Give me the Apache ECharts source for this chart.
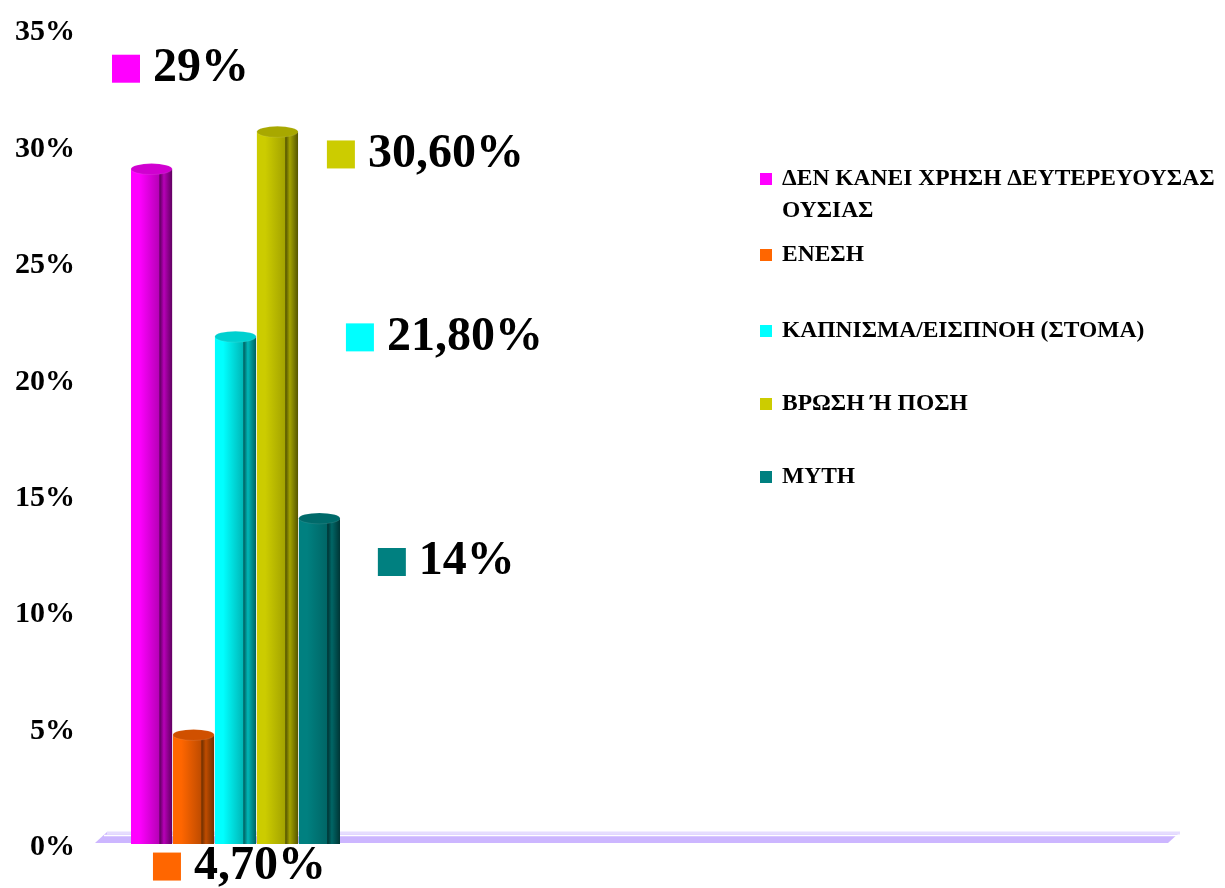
<!DOCTYPE html>
<html>
<head>
<meta charset="utf-8">
<script src="https://cdn.jsdelivr.net/npm/echarts@6/dist/echarts.min.js"></script>
<style>
  html, body { margin: 0; padding: 0; background: #fff; }
  #chart { width: 1225px; height: 888px; }
</style>
</head>
<body>
<div id="chart"></div>
<script>
// data
const categories = [''];
const seriesNames = [
  'ΔΕΝ ΚΑΝΕΙ ΧΡΗΣΗ ΔΕΥΤΕΡΕΥΟΥΣΑΣ ΟΥΣΙΑΣ',
  'ΕΝΕΣΗ',
  'ΚΑΠΝΙΣΜΑ/ΕΙΣΠΝΟΗ (ΣΤΟΜΑ)',
  'ΒΡΩΣΗ Ή ΠΟΣΗ',
  'ΜΥΤΗ'
];
const values = [29, 4.7, 21.8, 30.6, 14];
const valueLabels = ['29%', '4,70%', '21,80%', '30,60%', '14%'];
const yMin = 0, yMax = 35, yStep = 5;

// styles
const baseColors = ['#ff00ff', '#ff6600', '#00ffff', '#cccc00', '#008080'];
const midColors  = ['#b800b8', '#c04c00', '#00b8b8', '#a3a300', '#006666'];
const darkColors = ['#600060', '#703000', '#006060', '#555500', '#003535'];
const capColors  = ['#d000d0', '#d05000', '#00d0d0', '#a8a800', '#006a6a'];
// label anchor relative to the bar's top-left corner
const labelPos = [[-19, -100], [-20, 132], [131, 1], [70, 23], [79, 44]];
const legendTops = [126, 234, 310, 383, 456];

const FONT = '"Liberation Serif", "Times New Roman", serif';

const chart = echarts.init(document.getElementById('chart'));

const barSeries = seriesNames.map((name, i) => ({
  name: name,
  type: 'bar',
  barGap: '2%',
  barCategoryGap: '0%',
  z: 2,
  itemStyle: {
    color: new echarts.graphic.LinearGradient(0, 0, 1, 0, [
      { offset: 0, color: baseColors[i] },
      { offset: 0.2, color: baseColors[i] },
      { offset: 0.68, color: midColors[i] },
      { offset: 0.7, color: darkColors[i] },
      { offset: 0.8, color: midColors[i] },
      { offset: 1, color: darkColors[i] }
    ])
  },
  label: {
    show: true,
    position: labelPos[i],
    align: 'left',
    verticalAlign: 'middle',
    formatter: () => '{sq|}{v|' + valueLabels[i] + '}',
    rich: {
      sq: {
        width: 28, height: 28,
        backgroundColor: baseColors[i],
        verticalAlign: 'middle'
      },
      v: {
        fontFamily: FONT,
        fontWeight: 'bold',
        fontSize: 48,
        color: '#000',
        padding: [0, 0, 0, 13],
        verticalAlign: 'middle'
      }
    }
  },
  data: [values[i]]
}));

const capSeries = seriesNames.map((name, i) => ({
  name: name,
  type: 'pictorialBar',
  barGap: '2%',
  barCategoryGap: '0%',
  symbol: 'circle',
  symbolSize: ['100%', 11],
  symbolPosition: 'end',
  symbolOffset: [0, '-50%'],
  z: 3,
  silent: true,
  itemStyle: {
    color: capColors[i],
    borderColor: '#fff',
    borderWidth: 1.5
  },
  data: [values[i]]
}));

// first legend item wraps onto a second line; an empty leading line keeps
// the key square level with the first line of text
const legends = seriesNames.map((name, i) => ({
  left: 755,
  top: legendTops[i],
  orient: 'vertical',
  itemWidth: 12,
  itemHeight: 12,
  selectedMode: false,
  data: [{ name: name, icon: 'rect', itemStyle: { color: baseColors[i] } }],
  formatter: n => n.indexOf(' ΟΥΣΙΑΣ') > 0 ? '\n' + n.replace(' ΟΥΣΙΑΣ', '\nΟΥΣΙΑΣ') : n,
  textStyle: {
    fontFamily: FONT,
    fontWeight: 'bold',
    fontSize: 23.5,
    color: '#000',
    lineHeight: 32,
    padding: [0, 0, 0, 5]
  }
}));

const option = {
  backgroundColor: '#fff',
  animation: false,
  grid: {
    left: 131,
    width: 209,
    top: 29,
    bottom: 44
  },
  legend: legends,
  xAxis: {
    type: 'category',
    data: categories,
    axisLine: { show: false },
    axisTick: { show: false },
    axisLabel: { show: false }
  },
  yAxis: {
    type: 'value',
    min: yMin,
    max: yMax,
    interval: yStep,
    axisLine: { show: false },
    axisTick: { show: false },
    splitLine: { show: false },
    axisLabel: {
      margin: 56,
      formatter: '{v|{value}%}',
      rich: {
        v: {
          padding: [7, 0, 0, 0],
          fontFamily: FONT,
          fontWeight: 'bold',
          fontSize: 30,
          color: '#000'
        }
      }
    }
  },
  // floor of the 3D plot area
  graphic: [
    {
      type: 'polygon',
      z: -10,
      shape: { points: [[95, 843], [1168, 843], [1180, 832], [107, 832]] },
      style: { fill: '#ccb6ff' }
    },
    {
      type: 'line',
      z: -9,
      shape: { x1: 107, y1: 833, x2: 1180, y2: 833 },
      style: { stroke: '#e6ddff', lineWidth: 3 }
    },
    {
      type: 'line',
      z: -9,
      shape: { x1: 104, y1: 835.5, x2: 1177, y2: 835.5 },
      style: { stroke: '#ffffff', lineWidth: 1.5 }
    }
  ],
  series: barSeries.concat(capSeries)
};

chart.setOption(option);
</script>
</body>
</html>
